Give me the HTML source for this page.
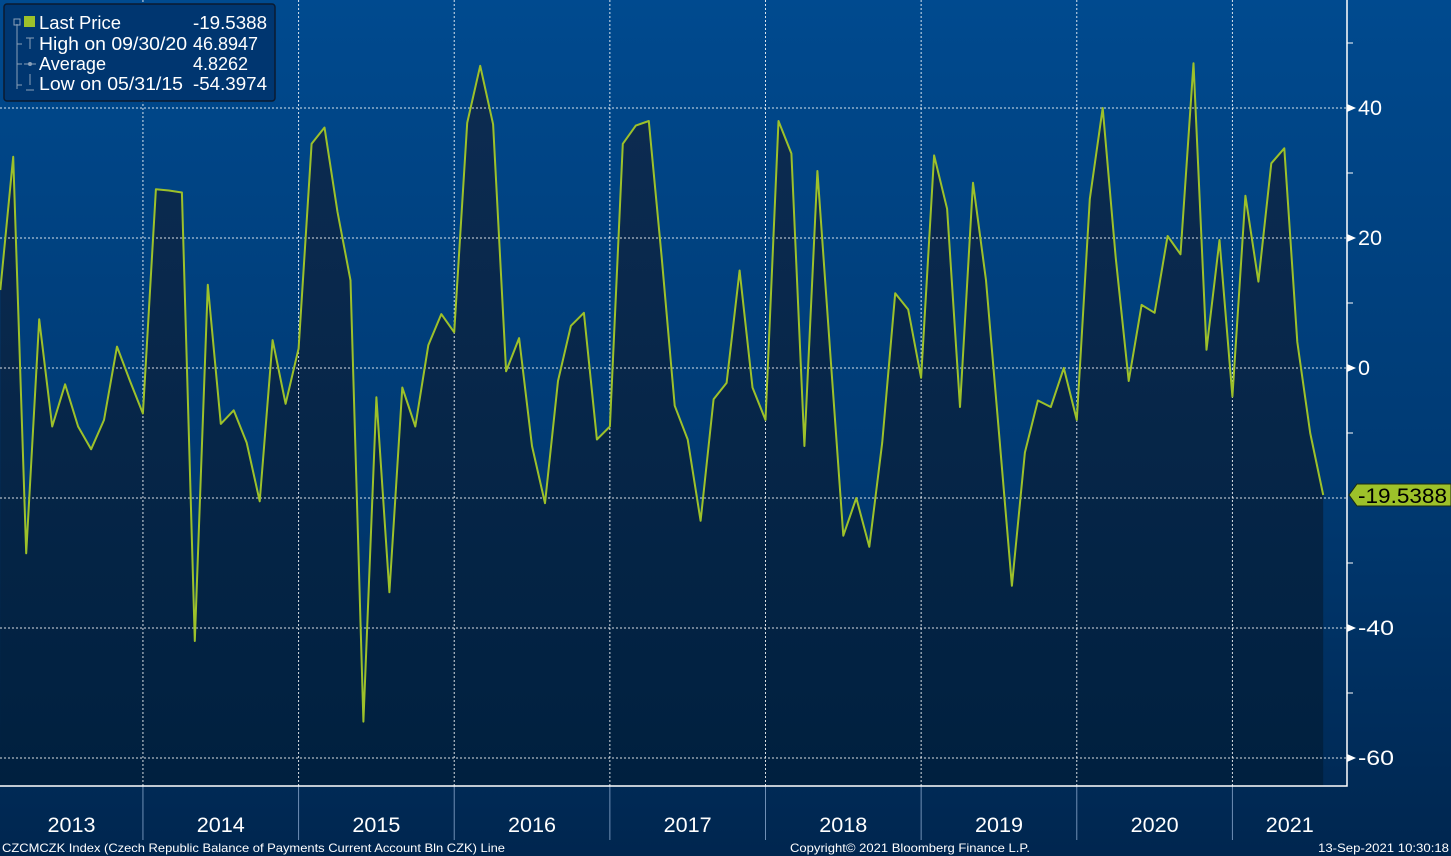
<!DOCTYPE html>
<html><head><meta charset="utf-8"><style>
html,body{margin:0;padding:0;width:1451px;height:856px;overflow:hidden;font-family:"Liberation Sans","DejaVu Sans",sans-serif;}
svg{display:block}
</style></head><body>
<svg id="chart" width="1451" height="856" xmlns="http://www.w3.org/2000/svg">
<defs>
<linearGradient id="bg" x1="0" y1="0" x2="0" y2="1">
<stop offset="0" stop-color="#004a8f"/><stop offset="0.55" stop-color="#003a73"/><stop offset="1" stop-color="#00264f"/></linearGradient>
<linearGradient id="area" x1="0" y1="0" x2="0" y2="1">
<stop offset="0" stop-color="#0d2c52"/><stop offset="1" stop-color="#00203f"/></linearGradient>
</defs>
<rect x="0" y="0" width="1451" height="856" fill="url(#bg)"/>
<g id="plot"></g>
<g id="axes"></g>
<g>
<rect x="4" y="4" width="271" height="97" rx="3" fill="#003670" stroke="#0a1a30" stroke-width="1.5"/>
<path d="M17,24 V89 M17,44 H22 M17,64 H22 M17,85 H22" stroke="#8aa0b8" stroke-width="1" fill="none"/>
<rect x="14" y="19" width="6" height="6" fill="none" stroke="#8aa0b8"/>
<rect x="24" y="16" width="11" height="11" fill="#9dc12a"/>
<path d="M26,38 H34 M30,38 V49 M24,64 H36 M30,85 V74 M26,90 H34" stroke="#8aa0b8" stroke-width="1"/>
<circle cx="30" cy="64" r="2" fill="#8aa0b8"/>
<g font-size="18" fill="#ffffff">
<text x="39" y="29" textLength="82" lengthAdjust="spacingAndGlyphs">Last Price</text>
<text x="193" y="29" textLength="74" lengthAdjust="spacingAndGlyphs">-19.5388</text>
<text x="39" y="50" textLength="148" lengthAdjust="spacingAndGlyphs">High on 09/30/20</text>
<text x="193" y="50" textLength="65" lengthAdjust="spacingAndGlyphs">46.8947</text>
<text x="39" y="70" textLength="67" lengthAdjust="spacingAndGlyphs">Average</text>
<text x="193" y="70" textLength="55" lengthAdjust="spacingAndGlyphs">4.8262</text>
<text x="39" y="90" textLength="144" lengthAdjust="spacingAndGlyphs">Low on 05/31/15</text>
<text x="193" y="90" textLength="74" lengthAdjust="spacingAndGlyphs">-54.3974</text>
</g></g>
<g font-size="12" fill="#ffffff">
<text x="2" y="852" textLength="503" lengthAdjust="spacingAndGlyphs">CZCMCZK Index (Czech Republic Balance of Payments Current Account Bln CZK) Line</text>
<text x="790" y="852" textLength="240" lengthAdjust="spacingAndGlyphs">Copyright© 2021 Bloomberg Finance L.P.</text>
<text x="1318" y="852" textLength="131" lengthAdjust="spacingAndGlyphs">13-Sep-2021 10:30:18</text>
</g>
</svg>
<script>
const values=[12,32.5,-28.5,7.5,-9,-2.5,-9,-12.5,-8,3.3,-2,-7,
27.5,27.3,27,-42,12.8,-8.6,-6.5,-11.5,-20.5,4.3,-5.5,3,
34.5,37,24,13.5,-54.4,-4.5,-34.5,-3,-9,3.5,8.3,5.5,
37.7,46.5,37.5,-0.5,4.6,-12,-20.8,-2,6.5,8.5,-11,-9,
34.5,37.3,38,17,-5.8,-11,-23.5,-4.8,-2.3,15,-3,-8,
38,33,-12,30.3,2,-25.8,-20,-27.5,-11.5,11.5,9,-1.5,
32.7,24.5,-6,28.5,13.5,-10,-33.5,-13,-5,-6,0,-8,
26,40,17,-2,9.7,8.5,20.3,17.5,46.9,2.8,19.7,-4.4,
26.5,13.3,31.5,33.8,4,-10,-19.5388];
const startMonth=1; // Feb 2013 (months since Jan 2013)
const years=["2013","2014","2015","2016","2017","2018","2019","2020","2021"];
const yTicks=[40,20,0,-40,-60];
const lastValue=-19.5388;
const NS="http://www.w3.org/2000/svg";
const x0=-12.7, mw=12.97, yZero=368, upu=6.5, plotR=1347, plotB=786;
const X=m=>x0+m*mw;
const Y=v=>yZero-v*upu;
const plot=document.getElementById('plot'), axes=document.getElementById('axes');
function mk(tag,attrs,parent){const e=document.createElementNS(NS,tag);for(const k in attrs)e.setAttribute(k,attrs[k]);parent.appendChild(e);return e;}
let pts=values.map((v,i)=>X(startMonth+i).toFixed(1)+','+Y(v).toFixed(1));
const lastX=X(startMonth+values.length-1);
const area=mk('polygon',{points:'0,'+plotB+' '+pts.join(' ')+' '+lastX.toFixed(1)+','+plotB,fill:'url(#area)'},plot);


[40,20,0,-20,-40,-60].forEach(t=>{
 const g=mk('line',{x1:0,x2:plotR,y1:Y(t),y2:Y(t),stroke:'#ffffff','stroke-width':1,'stroke-dasharray':'2,2',opacity:0.85},plot);
 
 
});
years.forEach((yr,i)=>{
 const xb=X(i*12);
 if(i>0){
  const g=mk('line',{x1:xb,x2:xb,y1:0,y2:plotB,stroke:'#ffffff','stroke-width':1,'stroke-dasharray':'2,2',opacity:0.85},plot);
  
  
  const s=mk('line',{x1:xb,x2:xb,y1:plotB,y2:840,stroke:'#6f8fb5','stroke-width':1},axes);
  
  
 }
 const xe=Math.min(X((i+1)*12),plotR);
 const t=mk('text',{x:(Math.max(xb,0)+xe)/2,y:832,'font-size':21,fill:'#ffffff','text-anchor':'middle',textLength:48,lengthAdjust:'spacingAndGlyphs'},axes);
 t.textContent=yr;
 
 
});
const line=mk('polyline',{points:pts.join(' '),fill:'none',stroke:'#9dc12a','stroke-width':2,'stroke-linejoin':'round'},plot);


const ax=mk('path',{d:'M'+plotR+',0 V'+plotB+' H0',stroke:'#ffffff','stroke-width':1.5,fill:'none'},axes);


[50,30,10,-10,-30,-50].forEach(t=>{
 const m=mk('line',{x1:plotR,x2:plotR+6,y1:Y(t),y2:Y(t),stroke:'#ffffff','stroke-width':1},axes);
 
 
});
yTicks.forEach(t=>{
 const y=Y(t);
 const p=mk('polygon',{points:(plotR)+','+(y-4)+' '+(plotR+9)+','+y+' '+plotR+','+(y+4),fill:'#ffffff'},axes);
 
 
 const lbl=(t<0?'-':'')+Math.abs(t);
 const tx=mk('text',{x:plotR+11,y:y+7,'font-size':21,fill:'#ffffff',textLength:lbl.length*12,lengthAdjust:'spacingAndGlyphs'},axes);
 tx.textContent=lbl;
 
 
});
const ly=Y(lastValue);
const tag=mk('polygon',{points:(plotR+2)+','+ly+' '+(plotR+10)+','+(ly-11)+' 1451,'+(ly-11)+' 1451,'+(ly+11)+' '+(plotR+10)+','+(ly+11),fill:'#9dc12a',stroke:'#1a2a10','stroke-width':1},axes);


const tt=mk('text',{x:plotR+11,y:ly+8,'font-size':21,fill:'#000000',textLength:89,lengthAdjust:'spacingAndGlyphs'},axes);
tt.textContent=lastValue.toFixed(4);


</script>
</body></html>
